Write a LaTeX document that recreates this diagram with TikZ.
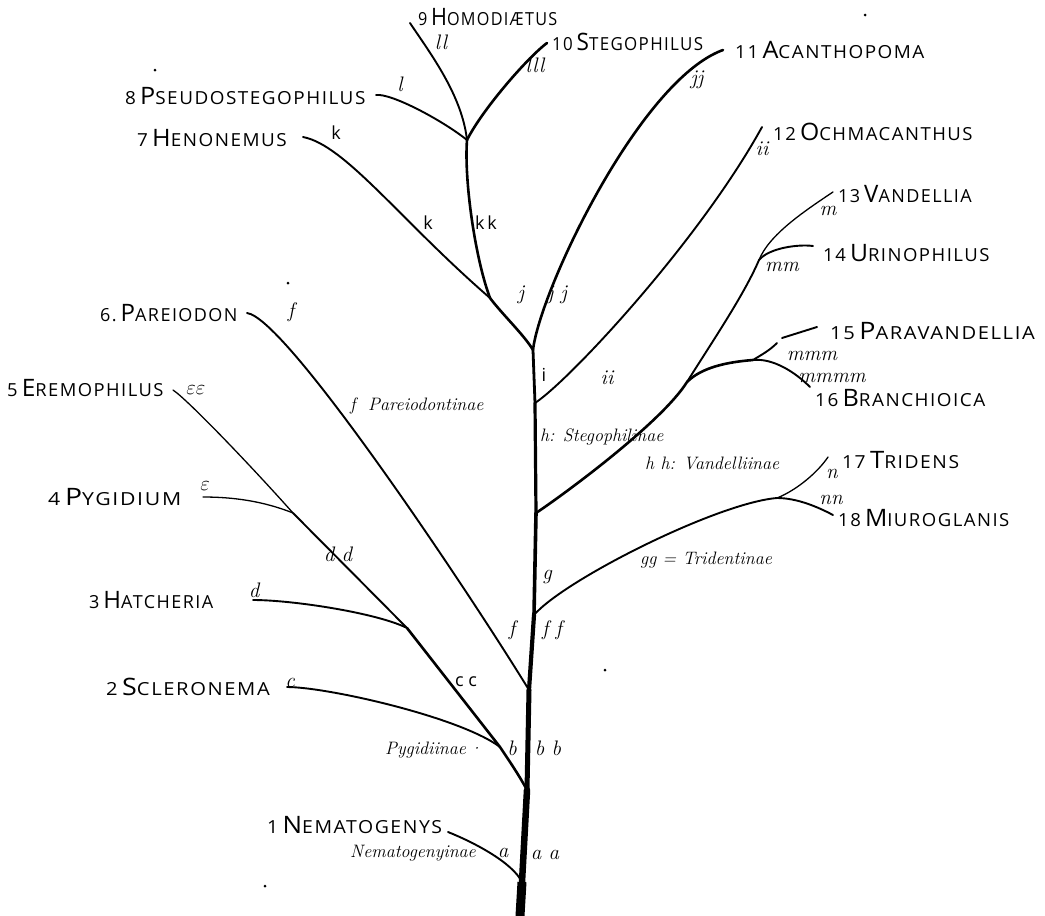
\documentclass[tikz,border=0pt]{standalone}
\usepackage{graphicx}
\usepackage{fontspec}
\newfontfamily\lab[LetterSpace=8]{Open Sans}
\newfontfamily\labk{Open Sans}
\newcommand\tx[4][1]{\scalebox{#1}[1]{{\fontsize{18}{18}\selectfont #2\hspace{4pt}}{\fontsize{24}{24}\selectfont #3}{\fontsize{18}{18}\selectfont #4}}}
\begin{document}
\begin{tikzpicture}[x=1pt,y=-1pt,
  taxon/.style={font=\lab, inner sep=0pt, anchor=west},
  hand/.style={font=\fontsize{18}{18}\selectfont\itshape, inner sep=0pt},
  lett/.style={font=\fontsize{21}{21}\selectfont\itshape, inner sep=0pt},
  klett/.style={font=\labk\fontsize{18}{18}\selectfont, inner sep=0pt},
  br/.style={line width=1.9pt, line cap=round},
  thick br/.style={line width=2.6pt, line cap=round},
  thin br/.style={line width=1.3pt, line cap=round},
  speck/.style={fill=black, inner sep=0pt, minimum size=3pt, circle}]
\useasboundingbox (0,0) rectangle (1045,916);

% ---------- junctions and ends ----------
\coordinate (t0) at (520,916);
\coordinate (t1) at (522,882);
\coordinate (t2) at (527,790);
\coordinate (t3) at (529,690);
\coordinate (t4) at (534,615);
\coordinate (t5) at (536,513);
\coordinate (t6) at (535,403);
\coordinate (t7) at (533,350);
\coordinate (kj) at (490,298);
\coordinate (lj) at (467,140);
\coordinate (uj) at (759,260);
\coordinate (vj) at (687,382);
\coordinate (pj) at (753,360);
\coordinate (tj) at (777,498);
\coordinate (bsj) at (500,747);
\coordinate (hj) at (407,628);
\coordinate (pyj) at (293,513);

\coordinate (homE) at (410,23);
\coordinate (stegE) at (547,43);
\coordinate (pseudoE) at (376,95);
\coordinate (henE) at (303,137);
\coordinate (acanE) at (723,50);
\coordinate (ochE) at (762,127);
\coordinate (vandE) at (833,192);
\coordinate (urinE) at (813,246);
\coordinate (paravE) at (777,343);
\coordinate (paravA) at (782,338);
\coordinate (paravB) at (817,327);
\coordinate (branchE) at (810,387);
\coordinate (tridE) at (828,457);
\coordinate (miuroE) at (833,515);
\coordinate (parE) at (247,313);
\coordinate (eremE) at (173,390);
\coordinate (pygE) at (203,497);
\coordinate (hatchE) at (253,600);
\coordinate (sclerE) at (287,687);
\coordinate (nematE) at (448,832);

% ---------- trunk ----------
\draw[line width=9pt] (t0) -- (t1);
\draw[line width=6.5pt, line cap=round] (t1) -- (t2);
\draw[line width=5pt, line cap=round] (t2) -- (t3);
\draw[line width=4.2pt, line cap=round] (t3) -- (t4);
\draw[line width=3.6pt, line cap=round] (t4) -- (t5);
\draw[line width=3.2pt, line cap=round] (t5) -- (t6);
\draw[line width=2.8pt, line cap=round] (t6) -- (t7);

% ---------- upper branches ----------
\draw[thick br] (t7) .. controls +(-8,-14) and +(12,16) .. (kj);
\draw[thick br] (kj) .. controls +(-15,-40) and +(-3,40) .. (lj);
\draw[br] (lj) .. controls +(-5,-45) and +(20,30) .. (homE);
\draw[thick br] (lj) .. controls +(15,-30) and +(-20,15) .. (stegE);
\draw[br] (lj) .. controls +(-25,-20) and +(15,-2) .. (pseudoE);
\draw[br] (kj) .. controls +(-90,-78) and +(42,8) .. (henE);
\draw[thick br] (t7) .. controls +(7,-60) and +(-83,30) .. (acanE);
\draw[br] (t6) .. controls +(35,-23) and +(-62,113) .. (ochE);
\draw[thick br] (t5) .. controls +(30,-20) and +(-25,40) .. (vj);
\draw[br] (vj) .. controls +(25,-40) and +(-15,35) .. (uj);
\draw[thin br] (uj) .. controls +(10,-25) and +(-30,20) .. (vandE);
\draw[br] (uj) .. controls +(10,-12) and +(-15,-2) .. (urinE);
\draw[thick br] (vj) .. controls +(15,-15) and +(-25,2) .. (pj);
\draw[br] (pj) .. controls +(8,-5) and +(-8,8) .. (paravE);
\draw[br] (paravA) -- (paravB);
\draw[br] (pj) .. controls +(20,-2) and +(-15,-15) .. (branchE);
\draw[br] (t4) .. controls +(30,-35) and +(-60,5) .. (tj);
\draw[thin br] (tj) .. controls +(20,-8) and +(-10,15) .. (tridE);
\draw[br] (tj) .. controls +(20,0) and +(-15,-8) .. (miuroE);

% ---------- left branches ----------
\draw[br] (t3) .. controls +(-55,-90) and +(40,5) .. (parE);
\draw[thick br] (t2) .. controls +(-8,-15) and +(8,12) .. (bsj);
\draw[thick br] (bsj) -- (hj);
\draw[br] (hj) -- (pyj);
\draw[thin br] (pyj) .. controls +(-40,-45) and +(15,10) .. (eremE);
\draw[br] (bsj) .. controls +(-40,-30) and +(40,0) .. (sclerE);
\draw[br] (hj) .. controls +(-30,-15) and +(40,0) .. (hatchE);
\draw[thin br] (pyj) .. controls +(-30,-12) and +(30,0) .. (pygE);
\draw[br] (t1) .. controls +(-10,-20) and +(25,10) .. (nematE);

% ---------- taxon names ----------
\node[taxon] (n9) at (418,17) {\tx[0.9]{9}{H}{OMODIÆTUS}};
\node[taxon] (n10) at (552,42) {\tx[0.94]{10}{S}{TEGOPHILUS}};
\node[taxon] (n11) at (735,50) {\tx[1.05]{11}{A}{CANTHOPOMA}};
\node[taxon] (n8) at (125,96) {\tx[1.05]{8}{P}{SEUDOSTEGOPHILUS}};
\node[taxon] (n7) at (137,138) {\tx[1.05]{7}{H}{ENONEMUS}};
\node[taxon] (n12) at (773,132) {\tx[1.03]{12}{O}{CHMACANTHUS}};
\node[taxon] (n13) at (838,194) {\tx{13}{V}{ANDELLIA}};
\node[taxon] (n14) at (823,253) {\tx[1.03]{14}{U}{RINOPHILUS}};
\node[taxon] (n15) at (830,331) {\tx[1.12]{15}{P}{ARAVANDELLIA}};
\node[taxon] (n16) at (815,398) {\tx[1.05]{16}{B}{RANCHIOICA}};
\node[taxon] (n17) at (842,460) {\tx[1.07]{17}{T}{RIDENS}};
\node[taxon] (n18) at (838,518) {\tx[1.03]{18}{M}{IUROGLANIS}};
\node[taxon] (n6) at (100,313) {\tx{6.}{P}{AREIODON}};
\node[taxon] (n5) at (7,388) {\tx[1.02]{5}{E}{REMOPHILUS}};
\node[taxon] (n4) at (48,497) {\tx[1.18]{4}{P}{YGIDIUM}};
\node[taxon] (n3) at (89,600) {\tx{3}{H}{ATCHERIA}};
\node[taxon] (n2) at (106,687) {\tx[1.12]{2}{S}{CLERONEMA}};
\node[taxon] (n1) at (267,825) {\tx[1.08]{1}{N}{EMATOGENYS}};

% ---------- subfamily names ----------
\node[hand, anchor=west] (sPar) at (350,406) {f\ \ Pareiodontinae};
\node[hand, anchor=west] (sSteg) at (540,437) {h: Stegophilinae};
\node[hand, anchor=west] (sVan) at (645,463) {h h: Vandelliinae};
\node[hand, anchor=west] (sTri) at (640,560) {gg = Tridentinae};
\node[hand, anchor=west] (sPyg) at (385,750) {Pygidiinae\,·};
\node[hand, anchor=west] (sNem) at (350,853) {Nematogenyinae};

% ---------- character letters ----------
\node[lett] (ll) at (441,42) {ll};
\node[lett] (lll) at (535,65) {lll};
\node[lett] (l1) at (400,84) {l};
\node[lett] (jjA) at (697,80) {jj};
\node[klett] (k1) at (336,133) {k};
\node[klett] (k2) at (428,223) {k};
\node[klett] (kk) at (486,223) {k\,k};
\node[lett] (j1) at (521,295) {j};
\node[lett] (jjB) at (557,295) {j j};
\node[klett] (i1) at (544,375) {i};
\node[lett] (ii1) at (607,378) {ii};
\node[lett] (ii2) at (762,149) {ii};
\node[lett] (m1) at (828,211) {m};
\node[lett] (mm) at (782,267) {mm};
\node[lett] (mmm) at (812,356) {mmm};
\node[lett] (mmmm) at (832,378) {mmmm};
\node[lett] (nA) at (832,474) {n};
\node[lett] (nn) at (831,500) {nn};
\node[lett] (g1) at (547,577) {g};
\node[lett] (f1) at (291,312) {f};
\node[lett] (f2) at (512,630) {f};
\node[lett] (ff) at (552,630) {f f};
\node[lett] (b1) at (512,748) {b};
\node[lett] (bb) at (548,748) {b b};
\node[lett] (a1) at (503,853) {a};
\node[lett] (aa) at (545,855) {a a};
\node[lett] (c1) at (290,683) {c};
\node[klett] (cc) at (466,682) {c c};
\node[lett] (d1) at (254,590) {d};
\node[lett] (dd) at (338,554) {d d};
\node[lett] (e1) at (205,486) {$\varepsilon$};
\node[lett] (ee) at (196,390) {$\varepsilon\varepsilon$};

% ---------- specks ----------
\node[speck] (s1) at (155,70) {};
\node[speck] (s2) at (288,283) {};
\node[speck] (s3) at (605,670) {};
\node[speck] (s4) at (265,886) {};
\node[speck] (s5) at (865,15) {};
\end{tikzpicture}
\end{document}
